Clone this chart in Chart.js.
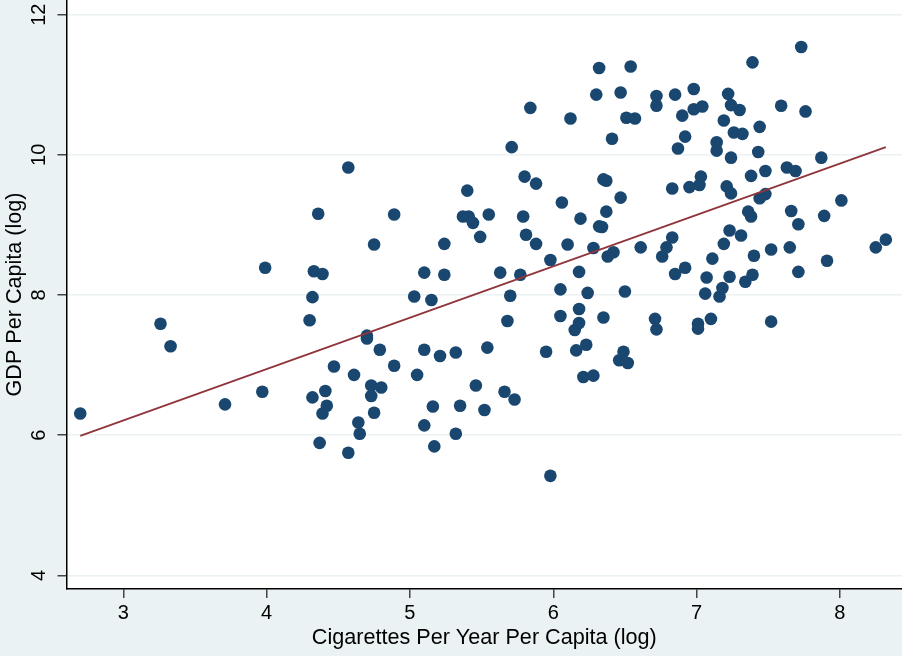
<!DOCTYPE html>
<html>
<head>
<meta charset="utf-8">
<title>Cigarettes vs GDP per capita</title>
<script src="https://cdn.jsdelivr.net/npm/chart.js@4.4.1/dist/chart.umd.min.js"></script>
<style>
  html, body { margin: 0; padding: 0; background: #eaf2f3; }
  #wrap { width: 902px; height: 656px; position: relative; }
</style>
</head>
<body>
<div id="wrap"><canvas id="chart"></canvas></div>
<script>
// values (log scale units)
const cigarettes = [
  2.70, 3.26, 3.33, 3.71, 3.97, 3.99, 4.30, 4.32, 4.33, 4.39,
  4.36, 4.32, 4.41, 4.42, 4.39, 4.37, 4.47, 4.57, 4.57, 4.61,
  4.64, 4.65, 4.70, 4.70, 4.73, 4.73, 4.75, 4.75, 4.79, 4.80,
  4.89, 4.89, 5.03, 5.05, 5.10, 5.10, 5.10, 5.15, 5.16, 5.17,
  5.21, 5.24, 5.24, 5.32, 5.32, 5.35, 5.37, 5.40, 5.41, 5.44,
  5.46, 5.49, 5.52, 5.54, 5.55, 5.63, 5.66, 5.68, 5.70, 5.71,
  5.73, 5.77, 5.79, 5.80, 5.81, 5.84, 5.88, 5.88, 5.95, 5.98,
  5.98, 6.05, 6.05, 6.06, 6.10, 6.12, 6.15, 6.16, 6.18, 6.18,
  6.18, 6.19, 6.21, 6.23, 6.24, 6.28, 6.28, 6.30, 6.32, 6.32,
  6.34, 6.35, 6.35, 6.37, 6.37, 6.38, 6.41, 6.42, 6.46, 6.47,
  6.47, 6.49, 6.50, 6.51, 6.52, 6.54, 6.57, 6.61, 6.71, 6.72,
  6.72, 6.72, 6.76, 6.79, 6.83, 6.83, 6.85, 6.85, 6.87, 6.90,
  6.92, 6.92, 6.95, 6.98, 6.98, 7.01, 7.01, 7.02, 7.03, 7.04,
  7.06, 7.07, 7.10, 7.11, 7.14, 7.14, 7.16, 7.18, 7.19, 7.19,
  7.21, 7.22, 7.23, 7.23, 7.24, 7.24, 7.24, 7.26, 7.30, 7.31,
  7.32, 7.34, 7.36, 7.38, 7.38, 7.39, 7.39, 7.40, 7.43, 7.44,
  7.44, 7.48, 7.48, 7.52, 7.52, 7.59, 7.63, 7.65, 7.66, 7.69,
  7.71, 7.71, 7.73, 7.76, 7.87, 7.89, 7.91, 8.01, 8.25, 8.32
];
const gdp = [
  6.31, 7.59, 7.27, 6.44, 6.62, 8.39, 7.64, 7.97, 8.34, 8.30,
  9.16, 6.54, 6.63, 6.42, 6.31, 5.89, 6.98, 9.82, 5.75, 6.86,
  6.18, 6.02, 7.42, 7.38, 6.71, 6.56, 8.72, 6.32, 7.22, 6.68,
  9.15, 6.99, 7.98, 6.86, 8.32, 7.22, 6.14, 7.93, 6.41, 5.84,
  7.13, 8.73, 8.29, 7.18, 6.02, 6.42, 9.12, 9.49, 9.12, 9.03,
  6.71, 8.83, 6.36, 7.25, 9.15, 8.32, 6.62, 7.63, 7.99, 10.11,
  6.51, 8.29, 9.12, 9.69, 8.86, 10.67, 9.59, 8.73, 7.19, 8.50,
  5.42, 8.08, 7.70, 9.32, 8.72, 10.52, 7.50, 7.21, 8.33, 7.80,
  7.60, 9.09, 6.83, 7.29, 8.03, 8.67, 6.85, 10.86, 11.24, 8.98,
  8.97, 9.65, 7.68, 9.63, 9.19, 8.55, 10.23, 8.61, 7.07, 10.89,
  9.39, 7.19, 8.05, 10.53, 7.03, 11.26, 10.52, 8.68, 7.66, 10.84,
  10.70, 7.51, 8.55, 8.68, 9.52, 8.82, 10.86, 8.30, 10.09, 10.56,
  10.26, 8.39, 9.54, 10.94, 10.65, 7.59, 7.52, 9.57, 9.69, 10.69,
  8.02, 8.25, 7.66, 8.52, 10.18, 10.06, 7.98, 8.10, 10.49, 8.73,
  9.55, 10.87, 8.92, 8.26, 10.71, 9.96, 9.45, 10.32, 10.64, 8.85,
  10.30, 8.19, 9.19, 9.70, 9.12, 11.32, 8.29, 8.56, 10.04, 10.40,
  9.38, 9.77, 9.44, 8.65, 7.62, 10.70, 9.82, 8.68, 9.20, 9.77,
  9.01, 8.33, 11.54, 10.62, 9.96, 9.13, 8.49, 9.35, 8.68, 8.79
];
// fitted line end points
const fitX = [2.70, 8.32];
const fitY = [5.99, 10.11];

const xTicks = [3, 4, 5, 6, 7, 8];
const yTicks = [4, 6, 8, 10, 12];

const FONT = '"Liberation Sans", Arial, Helvetica, sans-serif';

// grey page, white plot region
const backdrop = {
  id: 'backdrop',
  beforeDraw(chart) {
    const { ctx, chartArea: a } = chart;
    ctx.save();
    ctx.fillStyle = '#eaf2f3';
    ctx.fillRect(0, 0, chart.width, chart.height);
    ctx.fillStyle = '#ffffff';
    ctx.fillRect(a.left, a.top, a.right - a.left, a.bottom - a.top);
    ctx.restore();
  }
};

new Chart(document.getElementById('chart'), {
  type: 'scatter',
  data: {
    datasets: [{
      label: 'Fitted values',
      data: fitX.map((x, i) => ({ x: x, y: fitY[i] })),
      showLine: true,
      borderColor: '#90353b',
      borderWidth: 1.8,
      pointRadius: 0,
      order: 0
    }, {
      label: 'GDP Per Capita (log)',
      data: cigarettes.map((x, i) => ({ x: x, y: gdp[i] })),
      pointRadius: 6.3,
      pointBackgroundColor: '#1a476f',
      pointBorderWidth: 0,
      order: 1
    }]
  },
  options: {
    responsive: true,
    maintainAspectRatio: false,
    animation: false,
    layout: { padding: 0, autoPadding: false },
    plugins: {
      legend: { display: false },
      tooltip: { enabled: false }
    },
    scales: {
      x: {
        min: 2.604,
        max: 8.433,
        afterBuildTicks: s => { s.ticks = xTicks.map(v => ({ value: v })); },
        afterFit: s => { s.height = 67; s.paddingLeft = 0; s.paddingRight = 0; },
        border: { color: '#000', width: 1.5 },
        grid: { drawOnChartArea: false, tickLength: 9, tickColor: '#444', lineWidth: 1.5 },
        ticks: { color: '#000', padding: 3.8, font: { family: FONT, size: 20 } },
        title: {
          display: true,
          text: 'Cigarettes Per Year Per Capita (log)',
          color: '#000',
          font: { family: FONT, size: 21.6 },
          padding: { top: 0, bottom: 4.5 }
        }
      },
      y: {
        min: 3.805,
        max: 12.21,
        afterBuildTicks: s => { s.ticks = yTicks.map(v => ({ value: v })); },
        afterFit: s => { s.width = 66.5; s.paddingTop = 0; s.paddingBottom = 0; },
        border: { color: '#000', width: 1.5 },
        grid: { color: '#eaf2f3', lineWidth: 1.5, tickLength: 9, tickColor: '#444' },
        ticks: {
          color: '#000',
          padding: 6.4,
          minRotation: 90,
          maxRotation: 90,
          crossAlign: 'center',
          font: { family: FONT, size: 20 }
        },
        title: {
          display: true,
          text: 'GDP Per Capita (log)',
          color: '#000',
          font: { family: FONT, size: 21.6 },
          padding: { top: 2.2, bottom: 0 }
        }
      }
    }
  },
  plugins: [backdrop]
});
</script>
</body>
</html>
